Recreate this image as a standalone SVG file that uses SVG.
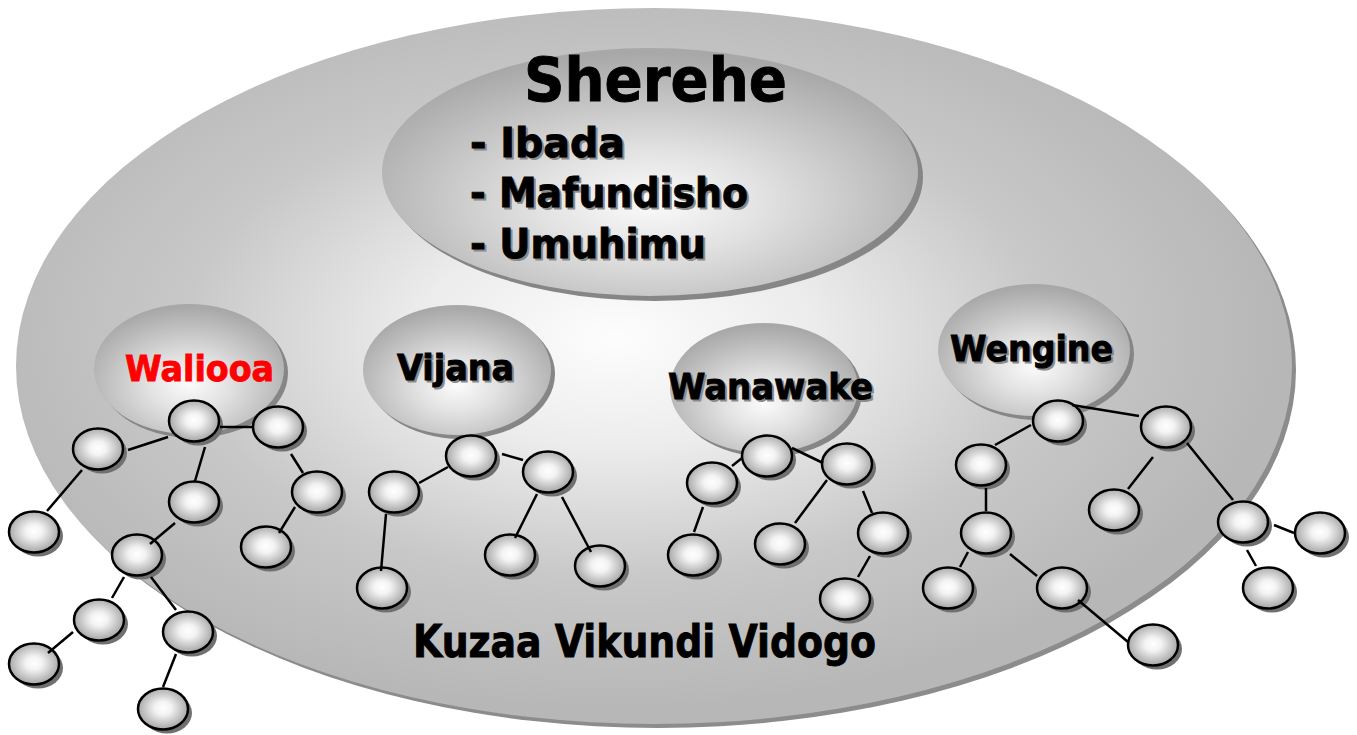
<svg xmlns="http://www.w3.org/2000/svg" xmlns:xlink="http://www.w3.org/1999/xlink" width="1357" height="735" viewBox="0 0 1357 735">
<defs>
<radialGradient id="gBig" cx="0.47" cy="0.46" r="0.52">
<stop offset="0" stop-color="#fdfdfd"/>
<stop offset="0.3" stop-color="#ececec"/>
<stop offset="0.65" stop-color="#c8c8c8"/>
<stop offset="1" stop-color="#b7b7b7"/>
</radialGradient>
<radialGradient id="gGrp" cx="0.5" cy="0.62" r="0.6">
<stop offset="0" stop-color="#fbfbfb"/>
<stop offset="0.35" stop-color="#e2e2e2"/>
<stop offset="1" stop-color="#a8a8a8"/>
</radialGradient>
<radialGradient id="gNode" cx="0.5" cy="0.48" r="0.55">
<stop offset="0" stop-color="#ffffff"/>
<stop offset="0.3" stop-color="#f3f3f3"/>
<stop offset="1" stop-color="#9e9e9e"/>
</radialGradient>
<g id="nd">
<ellipse cx="4" cy="4" rx="25" ry="20.5" fill="#707070"/>
<ellipse cx="0" cy="0" rx="25" ry="20.5" fill="url(#gNode)" stroke="#000" stroke-width="2.5"/>
</g>
<style>
.t{font-family:"DejaVu Sans","Verdana",sans-serif;font-weight:bold;fill:#000;stroke:#000;stroke-width:0.9}
.sh{font-family:"DejaVu Sans","Verdana",sans-serif;font-weight:bold;fill:#8a8a8a;stroke:#8a8a8a;stroke-width:0.9}
.gs{fill:#868686}
.gf{fill:url(#gGrp)}
.edges line{stroke:#000;stroke-width:2.5;stroke-linecap:butt}
</style>
</defs>

<g id="bigEllipse">
<ellipse cx="658" cy="370" rx="638" ry="358" fill="#8c8c8c"/>
<ellipse cx="654" cy="366" rx="638" ry="358" fill="url(#gBig)"/>
<text class="t" x="413" y="657" font-size="44" textLength="463" lengthAdjust="spacingAndGlyphs">Kuzaa Vikundi Vidogo</text>
</g>

<g id="sherehe">
<ellipse class="gs" cx="655" cy="177" rx="268" ry="124"/>
<ellipse class="gf" cx="650" cy="172" rx="268" ry="124"/>
<text class="t" x="524" y="101" font-size="60" textLength="263" lengthAdjust="spacingAndGlyphs">Sherehe</text>
<text class="sh" x="472" y="159" font-size="40" textLength="155" lengthAdjust="spacingAndGlyphs">- Ibada</text>
<text class="t" x="470" y="157" font-size="40" textLength="155" lengthAdjust="spacingAndGlyphs">- Ibada</text>
<text class="sh" x="472" y="209" font-size="40" textLength="278" lengthAdjust="spacingAndGlyphs">- Mafundisho</text>
<text class="t" x="470" y="207" font-size="40" textLength="278" lengthAdjust="spacingAndGlyphs">- Mafundisho</text>
<text class="sh" x="472" y="260" font-size="40" textLength="236" lengthAdjust="spacingAndGlyphs">- Umuhimu</text>
<text class="t" x="470" y="258" font-size="40" textLength="236" lengthAdjust="spacingAndGlyphs">- Umuhimu</text>
</g>

<g id="waliooa">
<ellipse class="gs" cx="193" cy="373" rx="95" ry="65"/>
<ellipse class="gf" cx="189" cy="369" rx="95" ry="65"/>
<text class="t" x="125" y="381" font-size="36" textLength="149" lengthAdjust="spacingAndGlyphs" style="fill:#ff0000;stroke:#ff0000">Waliooa</text>
</g>
<g id="vijana">
<ellipse class="gs" cx="461" cy="374" rx="94" ry="65"/>
<ellipse class="gf" cx="457" cy="370" rx="94" ry="65"/>
<text class="sh" x="399" y="382" font-size="36" textLength="117" lengthAdjust="spacingAndGlyphs">Vijana</text>
<text class="t" x="397" y="380" font-size="36" textLength="117" lengthAdjust="spacingAndGlyphs">Vijana</text>
</g>
<g id="wanawake">
<ellipse class="gs" cx="768" cy="392" rx="94" ry="65"/>
<ellipse class="gf" cx="764" cy="388" rx="94" ry="65"/>
<text class="sh" x="670" y="401" font-size="36" textLength="205" lengthAdjust="spacingAndGlyphs">Wanawake</text>
<text class="t" x="668" y="399" font-size="36" textLength="205" lengthAdjust="spacingAndGlyphs">Wanawake</text>
</g>
<g id="wengine">
<ellipse class="gs" cx="1038" cy="354" rx="96" ry="66"/>
<ellipse class="gf" cx="1034" cy="350" rx="96" ry="66"/>
<text class="sh" x="952" y="363" font-size="36" textLength="163" lengthAdjust="spacingAndGlyphs">Wengine</text>
<text class="t" x="950" y="361" font-size="36" textLength="163" lengthAdjust="spacingAndGlyphs">Wengine</text>
</g>

<g id="n-a1"><use xlink:href="#nd" href="#nd" transform="translate(194,421)"/></g>
<g id="n-a2"><use xlink:href="#nd" href="#nd" transform="translate(278,427)"/></g>
<g id="n-a3"><use xlink:href="#nd" href="#nd" transform="translate(98,449)"/></g>
<g id="n-a4"><use xlink:href="#nd" href="#nd" transform="translate(194,502)"/></g>
<g id="n-a5"><use xlink:href="#nd" href="#nd" transform="translate(317,492)"/></g>
<g id="n-a6"><use xlink:href="#nd" href="#nd" transform="translate(34,532)"/></g>
<g id="n-a7"><use xlink:href="#nd" href="#nd" transform="translate(266,547)"/></g>
<g id="n-a8"><use xlink:href="#nd" href="#nd" transform="translate(137,555)"/></g>
<g id="n-a9"><use xlink:href="#nd" href="#nd" transform="translate(99,620)"/></g>
<g id="n-a10"><use xlink:href="#nd" href="#nd" transform="translate(188,632)"/></g>
<g id="n-a11"><use xlink:href="#nd" href="#nd" transform="translate(34,664)"/></g>
<g id="n-a12"><use xlink:href="#nd" href="#nd" transform="translate(163,709)"/></g>

<g id="n-v1"><use xlink:href="#nd" href="#nd" transform="translate(471,456)"/></g>
<g id="n-v2"><use xlink:href="#nd" href="#nd" transform="translate(548,472)"/></g>
<g id="n-v3"><use xlink:href="#nd" href="#nd" transform="translate(394,492)"/></g>
<g id="n-v4"><use xlink:href="#nd" href="#nd" transform="translate(510,555)"/></g>
<g id="n-v5"><use xlink:href="#nd" href="#nd" transform="translate(600,566)"/></g>
<g id="n-v6"><use xlink:href="#nd" href="#nd" transform="translate(382,588)"/></g>

<g id="n-w1"><use xlink:href="#nd" href="#nd" transform="translate(767,456)"/></g>
<g id="n-w2"><use xlink:href="#nd" href="#nd" transform="translate(847,464)"/></g>
<g id="n-w3"><use xlink:href="#nd" href="#nd" transform="translate(712,483)"/></g>
<g id="n-w4"><use xlink:href="#nd" href="#nd" transform="translate(883,533)"/></g>
<g id="n-w5"><use xlink:href="#nd" href="#nd" transform="translate(780,544)"/></g>
<g id="n-w6"><use xlink:href="#nd" href="#nd" transform="translate(693,555)"/></g>
<g id="n-w7"><use xlink:href="#nd" href="#nd" transform="translate(845,599)"/></g>

<g id="n-g1"><use xlink:href="#nd" href="#nd" transform="translate(1058,421)"/></g>
<g id="n-g2"><use xlink:href="#nd" href="#nd" transform="translate(1166,427)"/></g>
<g id="n-g3"><use xlink:href="#nd" href="#nd" transform="translate(981,465)"/></g>
<g id="n-g4"><use xlink:href="#nd" href="#nd" transform="translate(986,533)"/></g>
<g id="n-g5"><use xlink:href="#nd" href="#nd" transform="translate(1114,510)"/></g>
<g id="n-g6"><use xlink:href="#nd" href="#nd" transform="translate(1243,522)"/></g>
<g id="n-g7"><use xlink:href="#nd" href="#nd" transform="translate(1320,533)"/></g>
<g id="n-g8"><use xlink:href="#nd" href="#nd" transform="translate(948,588)"/></g>
<g id="n-g9"><use xlink:href="#nd" href="#nd" transform="translate(1062,588)"/></g>
<g id="n-g10"><use xlink:href="#nd" href="#nd" transform="translate(1268,588)"/></g>
<g id="n-g11"><use xlink:href="#nd" href="#nd" transform="translate(1153,645)"/></g>

<g id="connectors" class="edges">
<line x1="128" y1="450" x2="168" y2="437"/>
<line x1="82" y1="470" x2="47" y2="511"/>
<line x1="220" y1="427" x2="253" y2="427"/>
<line x1="205" y1="447" x2="195" y2="481"/>
<line x1="175" y1="523" x2="150" y2="544"/>
<line x1="291" y1="454" x2="303" y2="473"/>
<line x1="295" y1="507" x2="279" y2="533"/>
<line x1="124" y1="577" x2="112" y2="598"/>
<line x1="151" y1="577" x2="176" y2="610"/>
<line x1="73" y1="632" x2="48" y2="653"/>
<line x1="176" y1="654" x2="163" y2="687"/>

<line x1="448" y1="467" x2="419" y2="483"/>
<line x1="502" y1="454" x2="523" y2="460"/>
<line x1="386" y1="514" x2="381" y2="571"/>
<line x1="537" y1="494" x2="515" y2="538"/>
<line x1="562" y1="497" x2="591" y2="552"/>

<line x1="742" y1="458" x2="732" y2="466"/>
<line x1="792" y1="448" x2="823" y2="463"/>
<line x1="703" y1="507" x2="694" y2="532"/>
<line x1="827" y1="480" x2="795" y2="523"/>
<line x1="863" y1="491" x2="872" y2="513"/>
<line x1="870" y1="556" x2="858" y2="577"/>

<line x1="1072" y1="405" x2="1139" y2="416"/>
<line x1="1031" y1="425" x2="995" y2="445"/>
<line x1="986" y1="488" x2="986" y2="511"/>
<line x1="1153" y1="457" x2="1128" y2="489"/>
<line x1="1187" y1="443" x2="1233" y2="500"/>
<line x1="1274" y1="525" x2="1294" y2="533"/>
<line x1="1247" y1="550" x2="1256" y2="566"/>
<line x1="968" y1="552" x2="960" y2="567"/>
<line x1="1010" y1="554" x2="1037" y2="576"/>
<line x1="1078" y1="600" x2="1128" y2="642"/>
</g>
</svg>
